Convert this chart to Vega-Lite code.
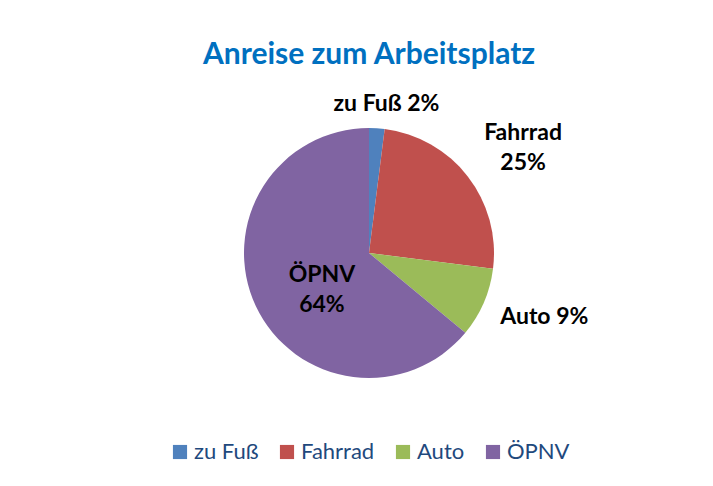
{
  "$schema": "https://vega.github.io/schema/vega-lite/v6.json",
  "width": 688,
  "height": 306,
  "autosize": {"type": "none"},
  "padding": {"left": 25, "right": 0, "top": 100, "bottom": 80},
  "background": "white",
  "title": {
    "text": "Anreise zum Arbeitsplatz",
    "font": "Lato",
    "fontSize": 30,
    "fontWeight": "bold",
    "color": "#0070C0",
    "anchor": "middle",
    "offset": -31
  },
  "data": {
    "values": [
      {"mode": "zu Fuß", "share": 2, "order": 1, "label": "zu Fuß 2%"},
      {"mode": "Fahrrad", "share": 25, "order": 2, "label": "Fahrrad\n25%"},
      {"mode": "Auto", "share": 9, "order": 3, "label": "Auto 9%"},
      {"mode": "ÖPNV", "share": 64, "order": 4, "label": "ÖPNV\n64%"}
    ]
  },
  "encoding": {
    "theta": {"field": "share", "type": "quantitative", "stack": true},
    "order": {"field": "order", "type": "quantitative"}
  },
  "layer": [
    {
      "mark": {"type": "arc", "outerRadius": 125},
      "encoding": {
        "color": {
          "field": "mode",
          "type": "nominal",
          "sort": ["zu Fuß", "Fahrrad", "Auto", "ÖPNV"],
          "scale": {
            "domain": ["zu Fuß", "Fahrrad", "Auto", "ÖPNV"],
            "range": ["#4F81BD", "#C0504D", "#9BBB59", "#8064A2"]
          },
          "legend": {
            "title": null,
            "orient": "bottom",
            "direction": "horizontal",
            "symbolType": "square",
            "symbolSize": 200,
            "symbolStrokeWidth": 0,
            "labelFont": "Lato",
            "labelFontSize": 22,
            "labelColor": "#1F497D",
            "labelOffset": 3,
            "columnPadding": 17,
            "offset": 35
          }
        }
      }
    },
    {
      "mark": {"type": "text", "radius": 151, "dx": 8, "dy": 2, "font": "Lato", "fontSize": 23, "fontWeight": "bold", "color": "black", "lineBreak": "\n", "lineHeight": 30},
      "encoding": {"text": {"condition": {"test": "datum.mode === 'zu Fuß'", "field": "label"}, "value": ""}}
    },
    {
      "mark": {"type": "text", "radius": 195, "font": "Lato", "fontSize": 23, "fontWeight": "bold", "color": "black", "lineBreak": "\n", "lineHeight": 30},
      "encoding": {"text": {"condition": {"test": "datum.mode === 'Fahrrad'", "field": "label"}, "value": ""}}
    },
    {
      "mark": {"type": "text", "radius": 191, "dy": -12, "font": "Lato", "fontSize": 23, "fontWeight": "bold", "color": "black", "lineBreak": "\n", "lineHeight": 30},
      "encoding": {"text": {"condition": {"test": "datum.mode === 'Auto'", "field": "label"}, "value": ""}}
    },
    {
      "mark": {"type": "text", "radius": 52, "font": "Lato", "fontSize": 23, "fontWeight": "bold", "color": "black", "lineBreak": "\n", "lineHeight": 30},
      "encoding": {"text": {"condition": {"test": "datum.mode === 'ÖPNV'", "field": "label"}, "value": ""}}
    }
  ],
  "config": {
    "view": {"stroke": null},
    "legend": {"layout": {"bottom": {"anchor": "middle"}}}
  }
}
